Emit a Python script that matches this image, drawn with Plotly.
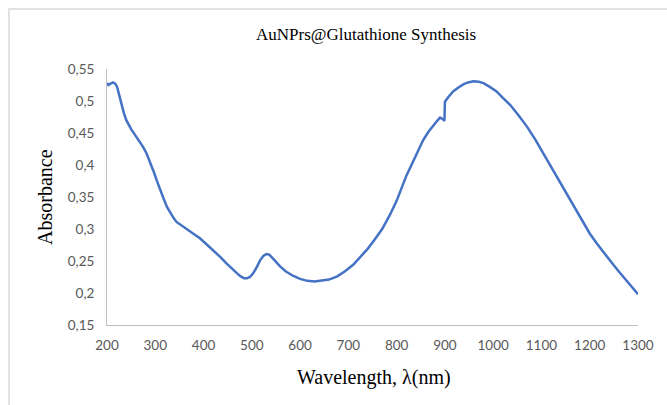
import plotly.graph_objects as go

wavelength = [200, 203, 207, 212, 217, 221, 225, 230, 235, 240, 245, 250, 258, 268, 275, 282, 290,
              297, 303, 310, 317, 324, 331, 338, 344, 355, 365, 380, 393, 405, 420, 435, 448, 460,
              469, 477, 484, 490, 496, 502, 510, 517, 524, 530, 536, 545, 558, 570, 585, 600, 615,
              630, 645, 660, 677, 693, 710, 724, 740, 755, 770, 786, 800, 820, 835, 845, 855, 866,
              876, 884, 890, 895, 899, 900, 908, 917, 928, 938, 948, 959, 970, 980, 993, 1007, 1020,
              1035, 1052, 1070, 1087, 1104, 1120, 1138, 1159, 1172, 1187, 1200, 1214, 1230, 1249,
              1262, 1276, 1288, 1300]
absorbance = [0.528, 0.525, 0.527, 0.529, 0.527, 0.522, 0.510, 0.495, 0.481, 0.470, 0.462, 0.456,
              0.447, 0.436, 0.428, 0.418, 0.404, 0.389, 0.376, 0.361, 0.348, 0.335, 0.325, 0.317,
              0.311, 0.305, 0.300, 0.292, 0.285, 0.277, 0.267, 0.256, 0.246, 0.237, 0.231, 0.226,
              0.223, 0.223, 0.225, 0.230, 0.240, 0.251, 0.258, 0.261, 0.260, 0.253, 0.242, 0.234,
              0.227, 0.222, 0.219, 0.218, 0.219, 0.221, 0.226, 0.234, 0.244, 0.256, 0.269, 0.284,
              0.300, 0.322, 0.344, 0.383, 0.408, 0.425, 0.439, 0.452, 0.462, 0.469, 0.474, 0.472,
              0.469, 0.499, 0.507, 0.515, 0.521, 0.526, 0.529, 0.531, 0.530, 0.528, 0.522, 0.515,
              0.505, 0.494, 0.478, 0.460, 0.440, 0.418, 0.397, 0.374, 0.346, 0.328, 0.309, 0.293,
              0.278, 0.262, 0.244, 0.232, 0.220, 0.209, 0.198]

x_tickvals = [200, 300, 400, 500, 600, 700, 800, 900, 1000, 1100, 1200, 1300]
x_ticktext = ["200", "300", "400", "500", "600", "700", "800", "900", "1000", "1100", "1200", "1300"]
y_tickvals = [0.15, 0.2, 0.25, 0.3, 0.35, 0.4, 0.45, 0.5, 0.55]
y_ticktext = ["0,15", "0,2", "0,25", "0,3", "0,35", "0,4", "0,45", "0,5", "0,55"]

W, H = 667, 405
L, R, T, B = 107, 29, 69, 80

fig = go.Figure()
fig.add_trace(go.Scatter(x=wavelength, y=absorbance, mode="lines",
                         line=dict(color="#4472C4", width=2.5), showlegend=False))

tickfont = dict(family="Lato, Liberation Sans, sans-serif", size=13.5, color="#595959")
fig.update_xaxes(range=[200, 1300], tickvals=x_tickvals, ticktext=x_ticktext,
                 showgrid=False, zeroline=False, showline=True, linecolor="#BFBFBF", linewidth=1,
                 ticks="outside", ticklen=8, tickcolor="rgba(0,0,0,0)", tickfont=tickfont)
fig.update_yaxes(range=[0.15, 0.55], tickvals=y_tickvals, ticktext=y_ticktext,
                 showgrid=False, zeroline=False, showline=True, linecolor="#BFBFBF", linewidth=1,
                 ticks="outside", ticklen=9, tickcolor="rgba(0,0,0,0)", tickfont=tickfont)

serif = "Liberation Serif, Times New Roman, serif"
pw, ph = W - L - R, H - T - B
fig.update_layout(
    width=W, height=H, margin=dict(l=L, r=R, t=T, b=B),
    paper_bgcolor="white", plot_bgcolor="white",
    annotations=[
        dict(text="AuNPrs@Glutathione Synthesis", xref="paper", yref="paper",
             x=(366 - L) / pw, y=(H - B - 34) / ph, showarrow=False,
             font=dict(family=serif, size=17, color="#000000"), xanchor="center", yanchor="middle"),
        dict(text="Absorbance", xref="paper", yref="paper",
             x=(45 - L) / pw, y=0.5, showarrow=False, textangle=-90,
             font=dict(family=serif, size=20, color="#000000"), xanchor="center", yanchor="middle"),
        dict(text="Wavelength, λ(nm)", xref="paper", yref="paper",
             x=(374 - L) / pw, y=(H - B - 377) / ph, showarrow=False,
             font=dict(family=serif, size=20, color="#000000"), xanchor="center", yanchor="middle"),
    ],
    shapes=[
        dict(type="rect", xref="paper", yref="paper",
             x0=(9 - L) / pw, x1=(720 - L) / pw, y0=(H - B - 420) / ph, y1=(H - B - 9) / ph,
             line=dict(color="#D9D9D9", width=1.5), fillcolor="rgba(0,0,0,0)", layer="below"),
    ],
)

fig.write_html("out.html")
